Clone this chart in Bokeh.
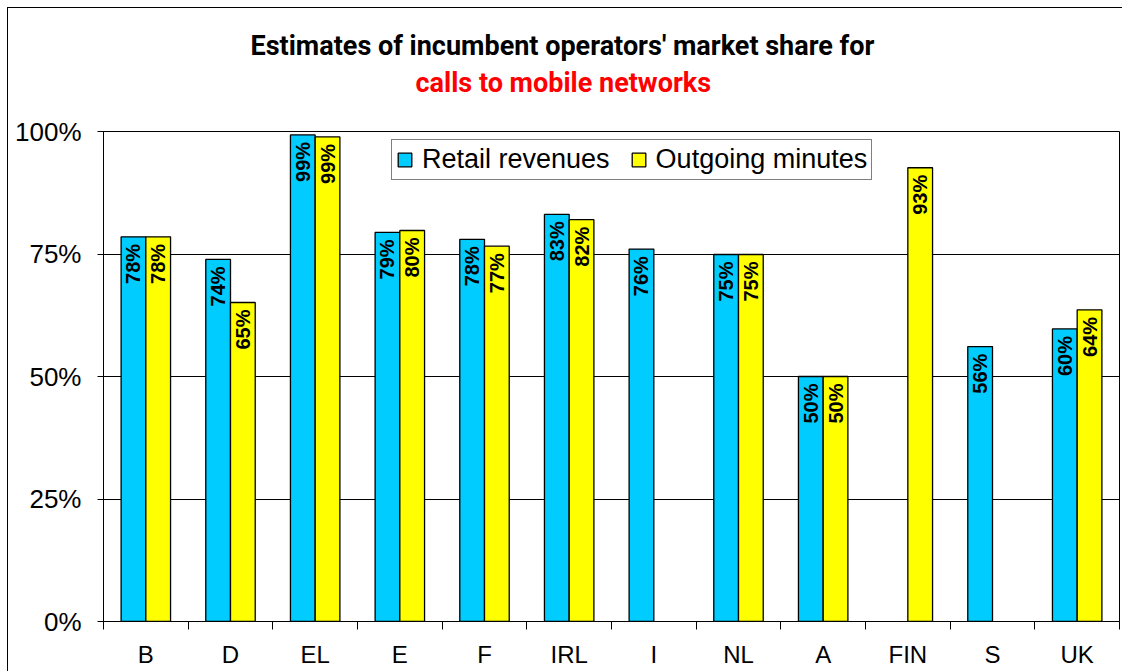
import numpy as np
from bokeh.plotting import figure
from bokeh.models import (ColumnDataSource, FixedTicker, Legend, LegendItem,
                          NumeralTickFormatter, Title)
from bokeh.transform import dodge
from bokeh.embed import file_html
from bokeh.resources import INLINE
from bokeh.core.properties import value

categories = ["B", "D", "EL", "E", "F", "IRL", "I", "NL", "A", "FIN", "S", "UK"]
retail = [78.5, 73.9, 99.3, 79.4, 78.0, 83.1, 76.0, 74.9, 50.0, None, 56.1, 59.7]
outgoing = [78.5, 65.1, 98.9, 79.8, 76.6, 82.0, None, 74.9, 50.0, 92.6, None, 63.6]
y_ticks = [0, 0.25, 0.5, 0.75, 1.0]
title_line1 = "Estimates of incumbent operators' market share for"
title_line2 = "calls to mobile networks"

FONT = "Liberation Sans"
TFONT = "Roboto"
BLUE = "#00CCFF"
YELLOW = "#FFFF00"

n = len(categories)
centers = [i + 0.5 for i in range(n)]


def make_source(vals):
    xs, ys, labels = [], [], []
    for c, v in zip(centers, vals):
        if v is None:
            continue
        xs.append(c)
        ys.append(v / 100.0)
        labels.append(f"{int(round(v))}%")
    return ColumnDataSource(dict(x=xs, y=ys, label=labels))


src_r = make_source(retail)
src_o = make_source(outgoing)

p = figure(width=1115, height=664, x_range=(0, n), y_range=(0, 1),
           output_backend="svg", toolbar_location=None, title=None,
           min_border_left=95, min_border_right=4, min_border_top=123,
           min_border_bottom=51, background_fill_color="white",
           border_fill_color="white",
           styles={"margin-left": "7px", "margin-top": "7px",
                   "border-left": "1px solid black", "border-top": "1px solid black"})

p.outline_line_color = "black"
p.outline_line_width = 1

bw = 0.292
r1 = p.vbar(x=dodge("x", -bw / 2, range=p.x_range), top="y", width=bw, bottom=0,
            source=src_r, fill_color=BLUE, line_color="black", line_width=1.3)
r2 = p.vbar(x=dodge("x", bw / 2, range=p.x_range), top="y", width=bw, bottom=0,
            source=src_o, fill_color=YELLOW, line_color="black", line_width=1.3)

for src, off in ((src_r, -bw / 2), (src_o, bw / 2)):
    p.text(x=dodge("x", off, range=p.x_range), y="y", text="label", source=src,
           angle=np.pi / 2, text_align="right", text_baseline="middle",
           y_offset=7, text_font=value(FONT), text_font_style="bold",
           text_font_size="20px", text_color="black")

# axes
p.yaxis.ticker = FixedTicker(ticks=y_ticks)
p.yaxis.formatter = NumeralTickFormatter(format="0%")
p.yaxis.major_label_text_font = FONT
p.yaxis.major_label_text_font_size = "26px"
p.yaxis.major_label_text_color = "black"
p.yaxis.major_tick_out = 6
p.yaxis.major_tick_in = 0
p.yaxis.minor_tick_line_color = None
p.yaxis.major_label_standoff = 16
p.yaxis.axis_line_color = "black"

p.xaxis.ticker = FixedTicker(ticks=centers, minor_ticks=list(range(n + 1)))
p.xaxis.major_label_overrides = {c: lab for c, lab in zip(centers, categories)}
p.xaxis.major_tick_line_color = None
p.xaxis.major_tick_out = 8
p.xaxis.minor_tick_out = 8
p.xaxis.minor_tick_in = 0
p.xaxis.minor_tick_line_color = "black"
p.xaxis.major_label_standoff = 11
p.xaxis.major_label_text_font = FONT
p.xaxis.major_label_text_font_size = "24px"
p.xaxis.major_label_text_color = "black"
p.xaxis.axis_line_color = "black"

p.xgrid.grid_line_color = None
p.ygrid.ticker = FixedTicker(ticks=y_ticks)
p.ygrid.grid_line_color = "black"
p.ygrid.grid_line_width = 1

# legend
legend = Legend(items=[LegendItem(label="Retail revenues", renderers=[r1]),
                       LegendItem(label="Outgoing minutes", renderers=[r2])],
                orientation="horizontal", location=(288, 441),
                label_text_font=FONT, label_text_font_size="27px",
                label_text_color="black", glyph_width=17, glyph_height=17,
                label_standoff=9, spacing=20, padding=4, margin=0,
                border_line_color="black", border_line_width=1,
                background_fill_color="white", background_fill_alpha=1)
p.add_layout(legend)

# title (first added sits closest to the plot); a blank spacer first
p.add_layout(Title(text=" ", text_font_size="1px", standoff=27), "above")
p.add_layout(Title(text=title_line2, align="left", offset=312, standoff=6,
                   text_font=TFONT, text_font_style="bold", text_font_size="27px",
                   text_color="#FF0000"), "above")
p.add_layout(Title(text=title_line1, align="left", offset=147, standoff=0,
                   text_font=TFONT, text_font_style="bold", text_font_size="27px",
                   text_color="black"), "above")

open("out.html", "w").write(file_html(p, INLINE))
